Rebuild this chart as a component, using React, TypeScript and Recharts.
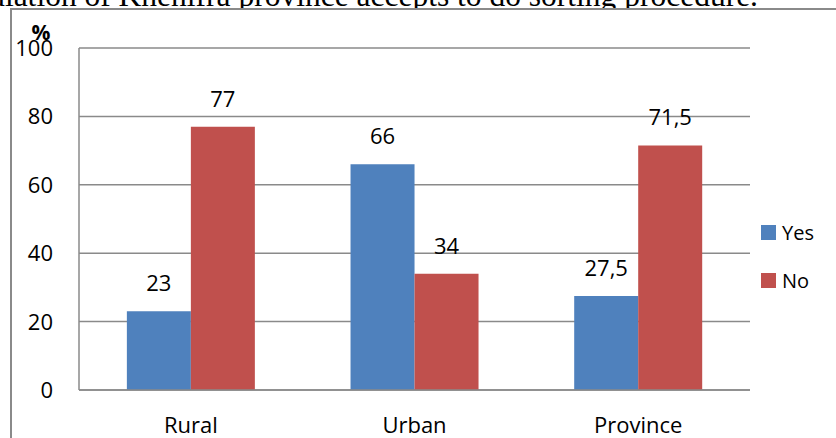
import React from "react";
import { BarChart, Bar, XAxis, YAxis, CartesianGrid, LabelList } from "recharts";

const categories = ["Rural", "Urban", "Province"];
const yesValues = [23, 66, 27.5];
const noValues = [77, 34, 71.5];
const yTicks = [0, 20, 40, 60, 80, 100];
const seriesNames = ["Yes", "No"];

const data = categories.map((name, i) => ({ name, yes: yesValues[i], no: noValues[i] }));

const FONT = "'Open Sans', sans-serif";
const GRID = "#8a8a8a";
const BLUE = "#4F81BD";
const RED = "#C0504D";
const seriesColors = [BLUE, RED];

const fmt = (v: number) => String(v).replace(".", ",");

const YTick = (props: any) => {
  const { y, payload } = props;
  return (
    <text x={53} y={y} dy="0.36em" textAnchor="end" fontFamily={FONT} fontSize={22} fill="#000">
      {payload.value}
    </text>
  );
};

const XTick = (props: any) => {
  const { x, payload } = props;
  return (
    <text x={x} y={433} textAnchor="middle" fontFamily={FONT} fontSize={22} fill="#000">
      {payload.value}
    </text>
  );
};

const ValueLabel = (props: any) => {
  const { x, y, width, value } = props;
  return (
    <text x={x + width / 2} y={y - 20} textAnchor="middle" fontFamily={FONT} fontSize={22} fill="#000">
      {fmt(value)}
    </text>
  );
};

export default function App() {
  return (
    <div style={{ position: "absolute", left: 0, top: 0, width: 836, height: 438, overflow: "hidden", background: "#fff" }}>
      <svg width={836} height={12} style={{ position: "absolute", left: 0, top: 0 }}>
        <text x={758} y={6} textAnchor="end" fontFamily="'Times New Roman', 'Liberation Serif', serif" fontSize={31.5} fill="#000">
          population of Khenifra province accepts to do sorting procedure.
        </text>
      </svg>
      <div
        style={{
          position: "absolute",
          left: 10,
          top: 8,
          width: 900,
          height: 500,
          background: "#fff",
          borderLeft: `2px solid ${GRID}`,
          borderTop: `2px solid ${GRID}`,
        }}
      />
      <div style={{ position: "absolute", left: 0, top: 0 }}>
        <BarChart
          width={836}
          height={438}
          data={data}
          margin={{ top: 48, right: 86, left: 0, bottom: 0 }}
          barCategoryGap="21.4%"
          barGap={0}
        >
          <CartesianGrid vertical={false} stroke={GRID} strokeWidth={1.5} />
          <XAxis
            dataKey="name"
            height={48}
            axisLine={{ stroke: GRID, strokeWidth: 1.5 }}
            tickLine={false}
            tick={<XTick />}
            interval={0}
          />
          <YAxis
            width={79}
            domain={[0, 100]}
            ticks={yTicks}
            axisLine={{ stroke: GRID, strokeWidth: 1.5 }}
            tickLine={false}
            tick={<YTick />}
            interval={0}
          />
          <Bar dataKey="yes" name={seriesNames[0]} fill={BLUE} isAnimationActive={false}>
            <LabelList dataKey="yes" content={<ValueLabel />} />
          </Bar>
          <Bar dataKey="no" name={seriesNames[1]} fill={RED} isAnimationActive={false}>
            <LabelList dataKey="no" content={<ValueLabel />} />
          </Bar>
        </BarChart>
      </div>
      {/* legend */}
      <div style={{ position: "absolute", left: 761, top: 225 }}>
        {seriesNames.map((name, i) => (
          <div
            key={name}
            style={{ position: "absolute", left: 0, top: i * 48, display: "flex", alignItems: "center", height: 15, whiteSpace: "nowrap" }}
          >
            <span style={{ display: "inline-block", width: 15, height: 15, background: seriesColors[i] }} />
            <span style={{ marginLeft: 6, fontFamily: FONT, fontSize: 20, color: "#000", lineHeight: "15px" }}>{name}</span>
          </div>
        ))}
      </div>
      <svg width={80} height={45} style={{ position: "absolute", left: 0, top: 0, pointerEvents: "none" }}>
        <text x={41} y={40} textAnchor="middle" fontFamily={FONT} fontSize={21} fontWeight="bold" fill="#000">
          %
        </text>
      </svg>
    </div>
  );
}
